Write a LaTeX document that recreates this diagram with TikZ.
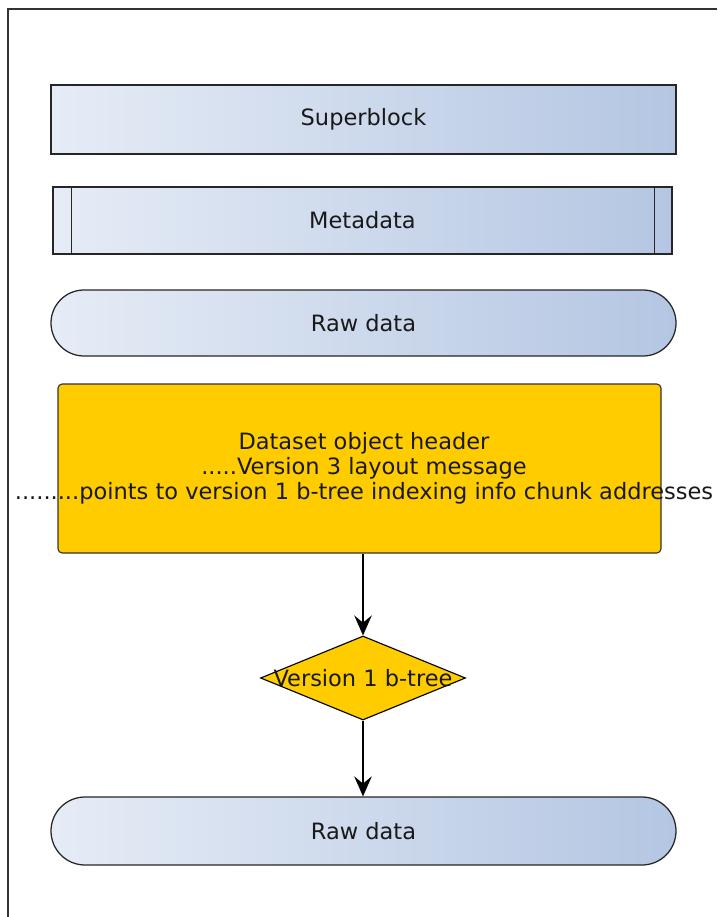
\documentclass[tikz,border=0pt]{standalone}
\usepackage{fontspec}
\setmainfont{DejaVu Sans}
\usetikzlibrary{arrows.meta}
\usetikzlibrary{shapes.geometric}
\usetikzlibrary{shapes.misc}
\definecolor{paleblue}{HTML}{E6ECF6}
\definecolor{greyblue}{HTML}{B4C6E2}
\definecolor{amber}{HTML}{FFCC00}

\begin{document}
\begin{tikzpicture}[>={Stealth[length=0.5cm, width=0.44cm, inset=0.18cm]},
block/.style={draw=black!85, line width=0.9pt, left color=paleblue, right color=greyblue, minimum width=15.625cm, inner sep=0},
chunk/.style={block, rounded rectangle, minimum height=1.65cm},
header/.style={draw=black!80, line width=0.8pt, fill=amber, rounded corners=3pt, minimum width=15.075cm, minimum height=4.225cm},
btree/.style={diamond, draw=black, line width=0.8pt, fill=amber, minimum width=5.125cm, minimum height=2.1cm, inner sep=0, aspect=2.44},
felirat/.style={inner sep=0, text=black!90, font=\fontsize{16}{17.8}\selectfont},
link/.style={->, line width=0.9pt}]

% SIZE OF THE PAGE
\useasboundingbox (0,0) rectangle (17.925,-22.925);
% FRAME (only top and left edges show)
\draw[line width=0.9pt, black!80] (0.2,-22.925) |- (17.925,-0.225);

%%%%%%%%% FILE LAYOUT %%%%%%%%%%%%%
\node[block, minimum height=1.725cm] (super) at (9.0875,-2.9875) {};
\node[felirat] at (super) {Superblock};

\node[block, minimum width=15.475cm, minimum height=1.675cm] (meta) at (9.0625,-5.5125) {};
\draw[line width=0.9pt, black!85] ([xshift=0.475cm]meta.north west)--([xshift=0.475cm]meta.south west);
\draw[line width=0.9pt, black!85] ([xshift=-0.45cm]meta.north east)--([xshift=-0.45cm]meta.south east);
\node[felirat] at (meta) {Metadata};

\node[chunk] (raw1) at (9.0875,-8.075) {};
\node[felirat] at (raw1) {Raw data};

%%%%%%%%% OBJECT HEADER %%%%%%%%%%%%%
\node[header] (ohdr) at (8.9875,-11.7125) {};
\node[felirat, align=center] (ohdrtext) at (9.1,-11.7125) {Dataset object header\\
.....Version 3 layout message\\
.........points to version 1 b-tree indexing info chunk addresses};

% B-TREE AND CHUNKS
\node[btree] (tree) at (9.075,-16.95) {};
\node[felirat] at (tree) {Version 1 b-tree};
\node[chunk, minimum height=1.7cm] (raw2) at (9.0875,-20.775) {};
\node[felirat] at (raw2) {Raw data};

\draw[link] (ohdr.south -| tree.north)--(tree.north);
\draw[link] (tree.south)--(raw2.north -| tree.south);
\end{tikzpicture}
\end{document}
